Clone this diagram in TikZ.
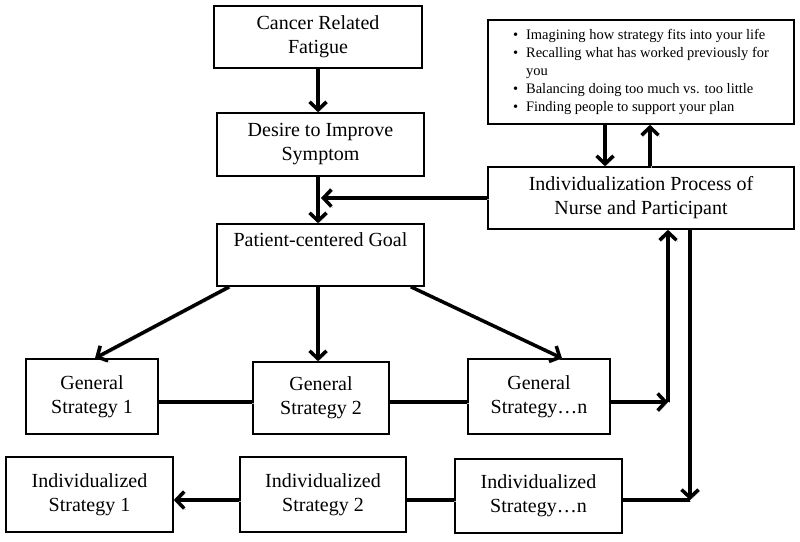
\documentclass[tikz,border=0pt]{standalone}
\usepackage{fontspec}
\setmainfont{Liberation Serif}
\usetikzlibrary{arrows.meta,positioning,calc}
\tikzset{
  flowbox/.style={
    draw=black, line width=1.6pt, align=center, inner sep=2pt,
    font=\fontsize{20}{24}\selectfont
  },
  shd/.style={preaction={draw=black!35, transform canvas={shift={(1.4pt,-1.4pt)}}}},
  lnk/.style={draw=black, line width=3.5pt, shd},
  arr/.style={lnk, -{Straight Barb[length=8pt,width=17pt]}},
  every picture/.append style={line join=miter}
}
\begin{document}
\begin{tikzpicture}[x=1pt,y=-1pt]
  \useasboundingbox (0,0) rectangle (800,541);

  \node[flowbox, minimum width=208pt, minimum height=62pt] (crf) at (318,37) {Cancer Related\\Fatigue};
  \node[flowbox, minimum width=207pt, minimum height=63pt] (desire) at (320.5,144.5) {Desire to Improve\\Symptom};
  \node[flowbox, minimum width=207pt, minimum height=62pt] (goal) at (320.5,255) {Patient-centered Goal\\\strut};

  \node[flowbox, minimum width=306pt, minimum height=104pt, align=left,
        font=\fontsize{14.5}{17.8}\selectfont] (tips) at (641,72) {%
    \begin{tabular}{@{}l@{\hspace{8pt}}l@{}}
      \textbullet & Imagining how strategy fits into your life\\
      \textbullet & Recalling what has worked previously for\\
                  & you\\
      \textbullet & Balancing doing too much vs. too little\\
      \textbullet & Finding people to support your plan
    \end{tabular}};
  \node[flowbox, minimum width=306pt, minimum height=62pt] (indiv) at (641,198) {Individualization Process of\\Nurse and Participant};

  \node[flowbox, minimum width=132pt, minimum height=75pt] (gs1) at (92,396.5) {General\\Strategy 1};
  \node[flowbox, minimum width=136pt, minimum height=72pt] (gs2) at (321,398) {General\\Strategy 2};
  \node[flowbox, minimum width=142pt, minimum height=75pt] (gsn) at (539,396.5) {General\\Strategy\ldots n};

  \node[flowbox, minimum width=167pt, minimum height=75pt] (is1) at (89.5,494.5) {Individualized\\Strategy 1};
  \node[flowbox, minimum width=166pt, minimum height=75pt] (is2) at (323,494.5) {Individualized\\Strategy 2};
  \node[flowbox, minimum width=167pt, minimum height=74pt] (isn) at (538.5,496) {Individualized\\Strategy\ldots n};

  \coordinate (merge) at (321,198);
  \coordinate (up) at (668,402);
  \coordinate (down) at (690,500);

  % main column
  \draw[arr] (crf.south) -- (crf.south |- desire.north);
  \draw[arr] (desire.south -| crf.south) -- (goal.north -| crf.south);
  \draw[arr] (indiv.west) -- (merge);

  % tips loop
  \draw[arr] ([xshift=-36pt]tips.south) -- ([xshift=-36pt]indiv.north);
  \draw[arr] ([xshift=9pt]indiv.north) -- ([xshift=9pt]tips.south);

  % goal to strategies
  \draw[arr] ([xshift=13pt]goal.south west) -- ([xshift=3pt]gs1.north);
  \draw[arr] (goal.south -| crf.south) -- (gs2.north -| crf.south);
  \draw[arr] ([xshift=-14pt]goal.south east) -- ([xshift=23pt]gsn.north);

  % general row back to process
  \draw[lnk] (gs1.east |- up) -- (gs2.west |- up);
  \draw[lnk] (gs2.east |- up) -- (gsn.west |- up);
  \draw[arr] (gsn.east |- up) -- (up);
  \draw[arr] (up) -- (indiv.south -| up);

  % process to individualized row
  \draw[arr] (indiv.south -| down) -- (down);
  \draw[lnk] (isn.east |- down) -- (down);
  \draw[lnk] (isn.west |- down) -- (is2.east |- down);
  \draw[arr] (is2.west |- down) -- (is1.east |- down);
\end{tikzpicture}
\end{document}
